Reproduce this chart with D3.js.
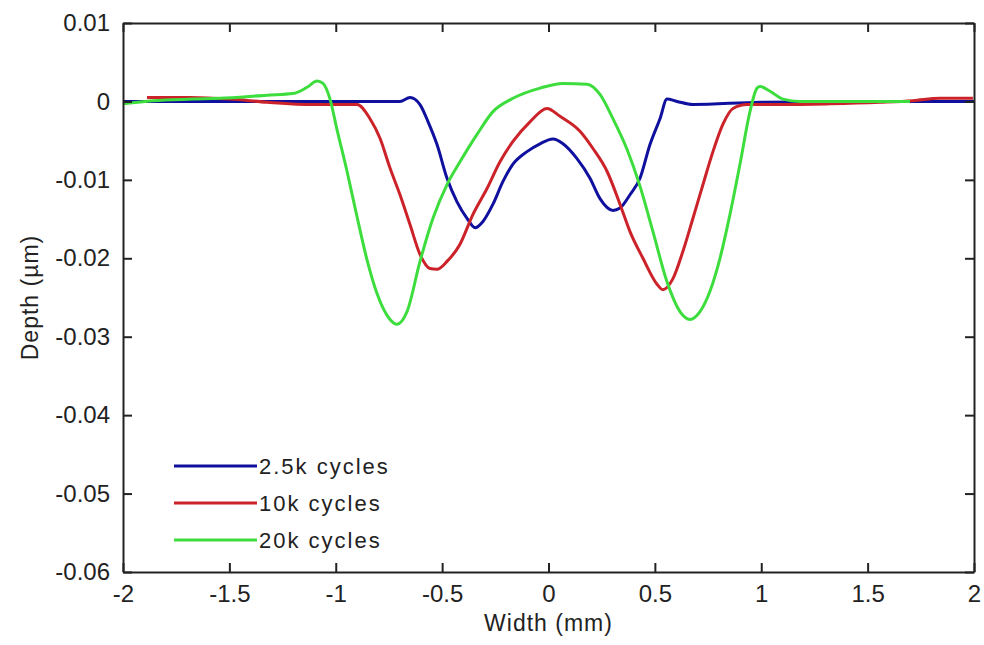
<!DOCTYPE html>
<html>
<head>
<meta charset="utf-8">
<script src="https://cdn.jsdelivr.net/npm/d3@7"></script>
<style>
  html, body { margin: 0; padding: 0; background: #fff; }
  svg { display: block; font-family: 'Liberation Sans', Arial, sans-serif; }
</style>
</head>
<body>
<div id="chart"></div>
<script>
(function () {
  'use strict';

  // Series: [width mm, depth]
  var series25k = [
    [-2.0, 0.0000], [-1.6, 0.0000], [-1.2, 0.0000], [-0.698, 0.0000], [-0.651, 0.0005], [-0.604, -0.0004],
    [-0.566, -0.0026], [-0.524, -0.0055], [-0.477, -0.0098], [-0.430, -0.0128], [-0.383, -0.0149],
    [-0.345, -0.0161], [-0.308, -0.0153], [-0.261, -0.0131], [-0.214, -0.0102], [-0.167, -0.0080],
    [-0.101, -0.0064], [-0.040, -0.0054], [0.021, -0.0048], [0.068, -0.0054], [0.134, -0.0073],
    [0.195, -0.0098], [0.242, -0.0124], [0.303, -0.0139], [0.336, -0.0136], [0.383, -0.0119],
    [0.430, -0.0098], [0.477, -0.0055], [0.524, -0.0022], [0.557, 0.0003], [0.604, 0.0000],
    [0.679, -0.0004], [0.994, -0.0001], [1.5, 0.0000], [2.0, 0.0000]
  ];
  var series10k = [
    [-1.887, 0.0005], [-1.685, 0.0005], [-1.497, 0.0003], [-1.323, -0.0001], [-1.107, -0.0004],
    [-0.900, -0.0004], [-0.839, -0.0022], [-0.792, -0.0047], [-0.745, -0.0085], [-0.698, -0.0119],
    [-0.651, -0.0157], [-0.604, -0.0195], [-0.557, -0.0213], [-0.524, -0.0214], [-0.477, -0.0204],
    [-0.416, -0.0182], [-0.355, -0.0144], [-0.289, -0.0111], [-0.228, -0.0077], [-0.167, -0.0051],
    [-0.087, -0.0026], [-0.007, -0.0009], [0.054, -0.0019], [0.148, -0.0038], [0.209, -0.0060],
    [0.275, -0.0089], [0.336, -0.0131], [0.383, -0.0166], [0.444, -0.0200], [0.510, -0.0233],
    [0.538, -0.0240], [0.585, -0.0226], [0.632, -0.0191], [0.679, -0.0149], [0.726, -0.0106],
    [0.773, -0.0064], [0.820, -0.0029], [0.867, -0.0009], [0.933, -0.0004], [1.102, -0.0004],
    [1.323, -0.0003], [1.558, -0.0001], [1.713, 0.0001], [1.840, 0.0004], [1.995, 0.0004]
  ];
  var series20k = [
    [-2.0, -0.0003], [-1.859, 0.0001], [-1.671, 0.0003], [-1.544, 0.0004], [-1.323, 0.0008],
    [-1.201, 0.0010], [-1.135, 0.0018], [-1.088, 0.0026], [-1.060, 0.0023], [-1.027, 0.0003],
    [-0.994, -0.0036], [-0.947, -0.0089], [-0.900, -0.0147], [-0.853, -0.0202], [-0.806, -0.0245],
    [-0.745, -0.0278], [-0.712, -0.0284], [-0.665, -0.0268], [-0.604, -0.0204], [-0.543, -0.0149],
    [-0.477, -0.0106], [-0.416, -0.0077], [-0.336, -0.0042], [-0.261, -0.0013], [-0.167, 0.0004],
    [-0.040, 0.0017], [0.068, 0.0023], [0.181, 0.0022], [0.242, 0.0009], [0.303, -0.0022],
    [0.369, -0.0061], [0.430, -0.0108], [0.491, -0.0166], [0.557, -0.0230], [0.618, -0.0268],
    [0.665, -0.0278], [0.712, -0.0268], [0.759, -0.0242], [0.806, -0.0200], [0.853, -0.0144],
    [0.900, -0.0080], [0.947, -0.0013], [0.980, 0.0017], [0.994, 0.0019], [1.041, 0.0013],
    [1.102, 0.0003], [1.182, 0.0000], [1.417, 0.0000], [1.699, 0.0000]
  ];

  var seriesNames = ['2.5k cycles', '10k cycles', '20k cycles'];
  var seriesColors = ['#10109e', '#cc2229', '#3ddd3d'];
  var seriesData = [series25k, series10k, series20k];

  var xTicks = [-2, -1.5, -1, -0.5, 0, 0.5, 1, 1.5, 2];
  var xTickLabels = ['-2', '-1.5', '-1', '-0.5', '0', '0.5', '1', '1.5', '2'];
  var yTicks = [0.01, 0, -0.01, -0.02, -0.03, -0.04, -0.05, -0.06];
  var yTickLabels = ['0.01', '0', '-0.01', '-0.02', '-0.03', '-0.04', '-0.05', '-0.06'];

  var width = 984, height = 645;
  var margin = { top: 23, right: 10, bottom: 73, left: 123 };
  var iw = width - margin.left - margin.right;
  var ih = height - margin.top - margin.bottom;

  var x = d3.scaleLinear().domain([-2, 2]).range([0, iw]);
  var y = d3.scaleLinear().domain([-0.06, 0.01]).range([ih, 0]);

  var svg = d3.select('#chart').append('svg').attr('width', width).attr('height', height);
  var g = svg.append('g').attr('transform', 'translate(' + margin.left + ',' + margin.top + ')');

  // Curves (blue first, green on top)
  var line = d3.line().x(function (d) { return x(d[0]); }).y(function (d) { return y(d[1]); })
    .curve(d3.curveMonotoneX);
  seriesData.forEach(function (s, i) {
    g.append('path').datum(s).attr('d', line).attr('fill', 'none')
      .attr('stroke', seriesColors[i]).attr('stroke-width', 3).attr('stroke-linejoin', 'round');
  });

  // Axes, ticks inward on all four sides
  function xFmt(d) { return xTickLabels[xTicks.indexOf(d)]; }
  function yFmt(d) { return yTickLabels[yTicks.indexOf(d)]; }

  var axB = g.append('g').attr('transform', 'translate(0,' + ih + ')')
    .call(d3.axisBottom(x).tickValues(xTicks).tickFormat(xFmt).tickSize(-9).tickSizeOuter(0).tickPadding(13));
  var axL = g.append('g')
    .call(d3.axisLeft(y).tickValues(yTicks).tickFormat(yFmt).tickSize(-9).tickSizeOuter(0).tickPadding(13));
  var axT = g.append('g')
    .call(d3.axisTop(x).tickValues(xTicks).tickFormat('').tickSize(-9).tickSizeOuter(0));
  var axR = g.append('g').attr('transform', 'translate(' + iw + ',0)')
    .call(d3.axisRight(y).tickValues(yTicks).tickFormat('').tickSize(-9).tickSizeOuter(0));

  [axB, axL, axT, axR].forEach(function (a) {
    a.select('.domain').attr('stroke', '#222').attr('stroke-width', 2);
    a.selectAll('.tick line').attr('stroke', '#222').attr('stroke-width', 2);
    a.selectAll('text').attr('fill', '#222').attr('font-size', 24)
      .attr('font-family', "'Liberation Sans', Arial, sans-serif");
  });

  // Axis titles
  svg.append('text').attr('x', margin.left + iw / 2).attr('y', 631)
    .attr('text-anchor', 'middle').attr('font-size', 23).attr('letter-spacing', 1).attr('fill', '#222')
    .text('Width (mm)');
  svg.append('text').attr('transform', 'translate(38,' + (margin.top + ih / 2) + ') rotate(-90)')
    .attr('text-anchor', 'middle').attr('font-size', 23).attr('letter-spacing', 1).attr('fill', '#222')
    .text('Depth (\u00b5m)');

  // Legend (no box)
  var leg = g.append('g').attr('transform', 'translate(51,' + (466 - margin.top) + ')');
  seriesNames.forEach(function (name, i) {
    var row = leg.append('g').attr('transform', 'translate(0,' + (i * 37) + ')');
    row.append('line').attr('x1', 0).attr('x2', 83).attr('y1', 0).attr('y2', 0)
      .attr('stroke', seriesColors[i]).attr('stroke-width', 3);
    row.append('text').attr('x', 85).attr('y', 0).attr('dy', '0.35em')
      .attr('font-size', 22).attr('letter-spacing', 2).attr('fill', '#222').text(name);
  });
})();
</script>
</body>
</html>
